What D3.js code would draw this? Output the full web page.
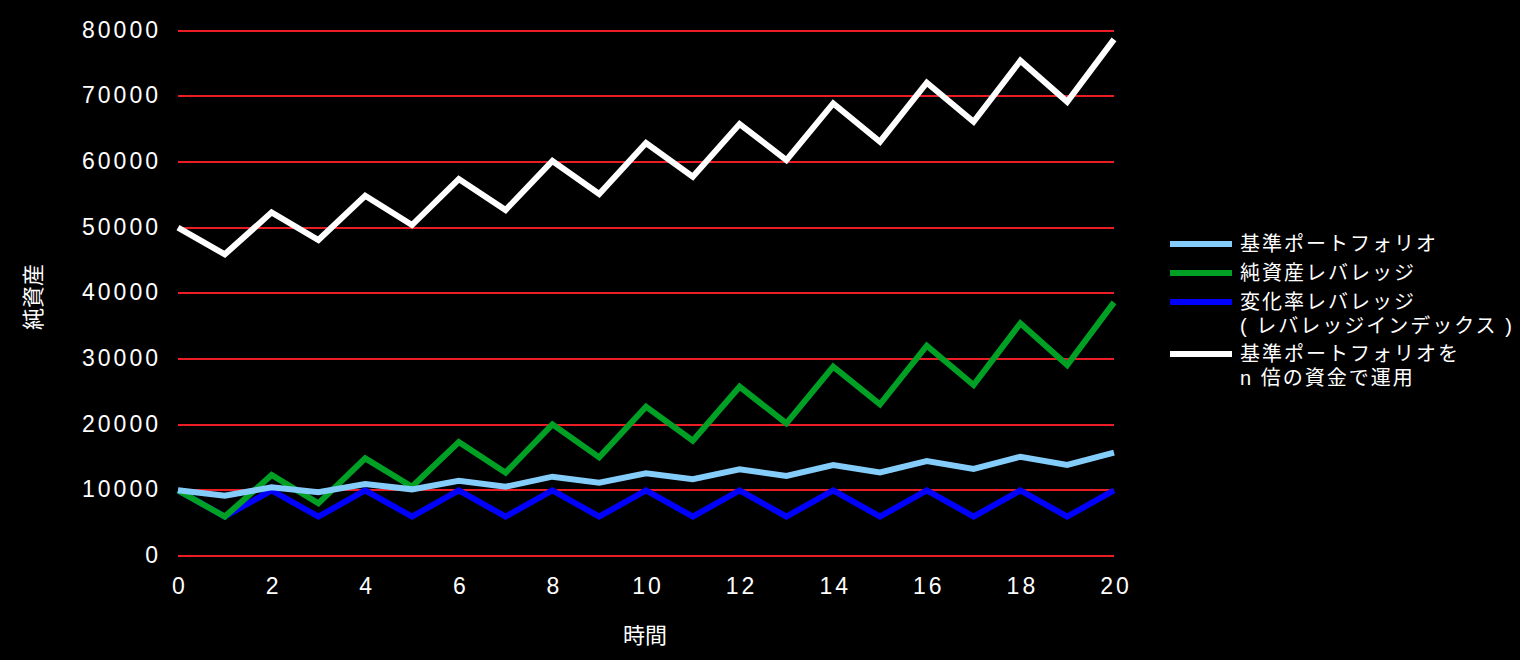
<!DOCTYPE html>
<html>
<head>
<meta charset="utf-8">
<script src="https://cdn.jsdelivr.net/npm/d3@7"></script>
<style>
  html, body { margin: 0; padding: 0; background: #000; }
  svg { display: block; }
  text { font-family: "Liberation Sans", Arial, "Noto Sans CJK JP", sans-serif; fill: #fff; }
</style>
</head>
<body>
<script>
const periods = d3.range(0, 21);
const xTickLabels = [0, 2, 4, 6, 8, 10, 12, 14, 16, 18, 20];
const yTickLabels = [0, 10000, 20000, 30000, 40000, 50000, 60000, 70000, 80000];

const legendLabels = [
  ["基準ポートフォリオ"],
  ["純資産レバレッジ"],
  ["変化率レバレッジ", "( レバレッジインデックス )"],
  ["基準ポートフォリオを", "n 倍の資金で運用"]
];
const seriesColors = ["#84cdfb", "#00a024", "#0000ff", "#ffffff"];

const basePortfolio = [10000, 9190, 10460, 9700, 10960, 10150, 11470, 10550, 12080, 11160, 12590,
  11680, 13200, 12180, 13860, 12740, 14470, 13250, 15120, 13860, 15730];
const netAssetLeverage = [10000, 6000, 12330, 8020, 14870, 10550, 17360, 12690, 20050, 15020, 22740,
  17560, 25780, 20200, 28830, 23100, 32020, 26040, 35430, 29080, 38630];
const changeRateLeverage = [10000, 6000, 10000, 6000, 10000, 6000, 10000, 6000, 10000, 6000, 10000,
  6000, 10000, 6000, 10000, 6000, 10000, 6000, 10000, 6000, 10000];
const nTimesCapital = [50000, 45940, 52330, 48120, 54870, 50400, 57400, 52690, 60150, 55120, 62900,
  57760, 65780, 60300, 68930, 63090, 72080, 66140, 75430, 69180, 78680];

const W = 1520, H = 660;
const svg = d3.select("body").append("svg").attr("width", W).attr("height", H)
  .style("background", "#000");

const x = d3.scaleLinear().domain([0, 20]).range([178, 1114]);
const y = d3.scaleLinear().domain([0, 80000]).range([556, 30.7]);

// grid lines + y labels
const yAxis = d3.axisLeft(y).tickValues(yTickLabels).tickSize(-(1114 - 178)).tickPadding(20)
  .tickFormat(d3.format("d"));
const gy = svg.append("g").attr("transform", "translate(178,0)").call(yAxis);
gy.select(".domain").remove();
gy.selectAll(".tick").attr("transform", d => `translate(0,${Math.round(y(d))})`);
gy.selectAll(".tick line").attr("stroke", "#ec1c24").attr("stroke-width", 2)
  .attr("shape-rendering", "crispEdges");
gy.selectAll(".tick text").style("font-size", "23px").style("letter-spacing", "3px")
  .attr("dx", "3px").attr("fill", "#fff");

const xAxis = d3.axisBottom(x).tickValues(xTickLabels).tickSize(0).tickPadding(22)
  .tickFormat(d3.format("d"));
const gx = svg.append("g").attr("transform", "translate(0,556)").call(xAxis);
gx.select(".domain").remove();
gx.selectAll(".tick text").style("font-size", "23px").style("letter-spacing", "3px")
  .attr("dx", "1.5px").attr("fill", "#fff");

// titles
svg.append("text").attr("x", 645).attr("y", 643).attr("text-anchor", "middle")
  .style("font-size", "22px").style("font-family", "'Noto Sans CJK JP', sans-serif").text("時間");
svg.append("text").attr("transform", "translate(41,297) rotate(-90)").attr("text-anchor", "middle")
  .style("font-size", "22px").style("font-family", "'Noto Sans CJK JP', sans-serif").text("純資産");

const line = d3.line().x((d, i) => x(periods[i])).y(d => y(d));
const drawOrder = [
  [nTimesCapital, 3],
  [changeRateLeverage, 2],
  [netAssetLeverage, 1],
  [basePortfolio, 0]
];
drawOrder.forEach(([vals, ci]) => {
  svg.append("path").datum(vals).attr("d", line)
    .attr("fill", "none").attr("stroke", seriesColors[ci]).attr("stroke-width", 6)
    .attr("stroke-linejoin", "miter");
});

// legend
const legendRows = [244, 273, 302, 354];
legendLabels.forEach((lines, i) => {
  const cy = legendRows[i];
  svg.append("line").attr("x1", 1170).attr("x2", 1232).attr("y1", cy).attr("y2", cy)
    .attr("stroke", seriesColors[i]).attr("stroke-width", 6);
  lines.forEach((t, j) => {
    svg.append("text").attr("x", 1240).attr("y", cy + 7 + j * 23.5)
      .style("font-size", "20px").style("letter-spacing", "2px")
      .style("font-family", "'Liberation Sans', 'Noto Sans CJK JP', sans-serif")
      .text(t);
  });
});
</script>
</body>
</html>
